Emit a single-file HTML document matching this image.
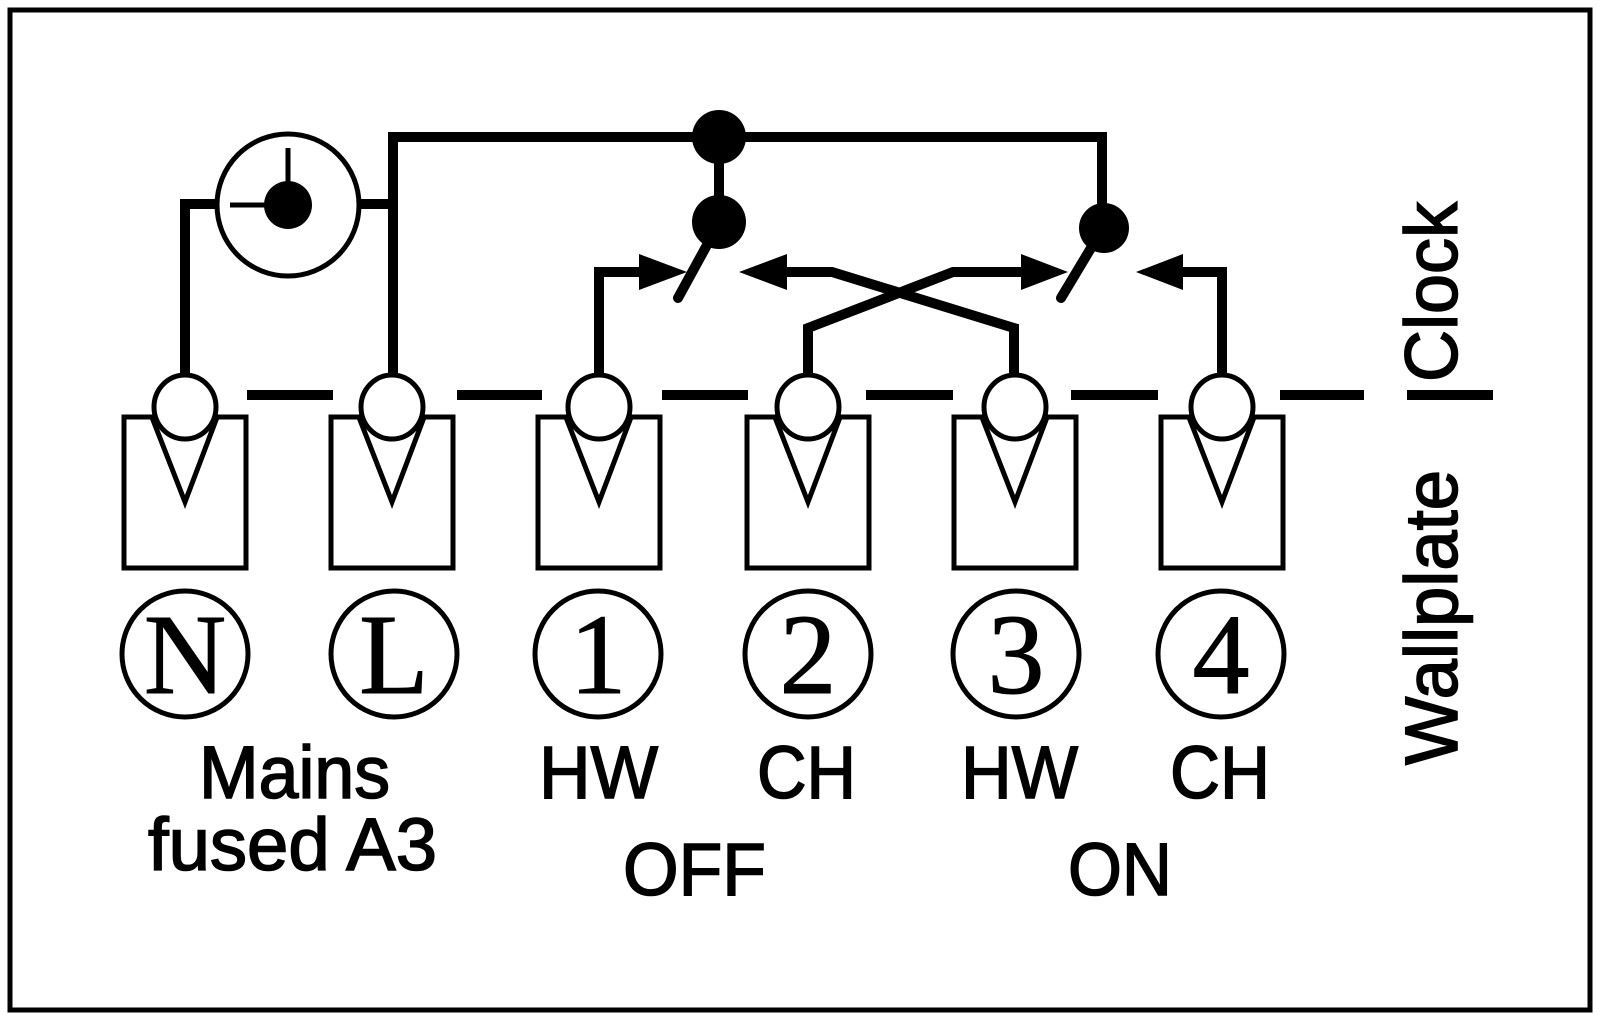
<!DOCTYPE html>
<html><head><meta charset="utf-8"><style>
html,body{margin:0;padding:0;background:#fff;}
svg{display:block;}
.s{font-family:"Liberation Sans",Arial,sans-serif;fill:#000;stroke:#000;stroke-width:1.6;}
.r{font-family:"Liberation Serif","Times New Roman",serif;fill:#000;stroke:#000;stroke-width:1;}
</style></head><body>
<svg width="1600" height="1019" viewBox="0 0 1600 1019" xmlns="http://www.w3.org/2000/svg">
<rect x="0" y="0" width="1600" height="1019" fill="#fff"/>
<rect x="10" y="10" width="1580" height="1000" fill="none" stroke="#000" stroke-width="5"/>

<g stroke="#000" stroke-width="10" fill="none">
  <polyline points="185,375 185,204 218,204"/>
  <polyline points="393,375 393,137 1102,137 1102,228"/>
  <line x1="358" y1="204" x2="393" y2="204"/>
  <line x1="719" y1="137" x2="719" y2="222"/>
  <polyline points="599,375 599,272 642,272"/>
  <polyline points="1014,375 1014,328 832,272 785,272"/>
  <polyline points="808,375 808,328 953,272 1024,272"/>
  <polyline points="1222,375 1222,272 1180,272"/>
</g>
<g stroke="#000" stroke-width="10" stroke-linecap="round">
  <line x1="707" y1="245" x2="678" y2="298"/>
  <line x1="1091" y1="248" x2="1061" y2="298"/>
</g>
<polygon points="639,254 687,272 639,290" fill="#000"/>
<polygon points="787,254 739,272 787,290" fill="#000"/>
<polygon points="1021,254 1068,272 1021,290" fill="#000"/>
<polygon points="1183,254 1136,272 1183,290" fill="#000"/>
<circle cx="719" cy="137" r="27" fill="#000"/>
<circle cx="719" cy="222" r="27" fill="#000"/>
<circle cx="1104" cy="228" r="25" fill="#000"/>

<circle cx="288" cy="205" r="71" fill="#fff" stroke="#000" stroke-width="5"/>
<circle cx="288" cy="205" r="24" fill="#000"/>
<line x1="288" y1="148" x2="288" y2="205" stroke="#000" stroke-width="5"/>
<line x1="230" y1="205" x2="288" y2="205" stroke="#000" stroke-width="5"/>

<g fill="#000">
  <rect x="247" y="390" width="86" height="10"/>
  <rect x="457" y="390" width="85" height="10"/>
  <rect x="662" y="390" width="86" height="10"/>
  <rect x="866" y="390" width="87" height="10"/>
  <rect x="1071" y="390" width="87" height="10"/>
  <rect x="1280" y="390" width="84" height="10"/>
  <rect x="1407" y="390" width="86" height="10"/>
</g>

<g stroke="#000" stroke-width="5" fill="#fff">
  <g transform="translate(185,0)">
    <rect x="-61" y="417" width="122" height="151"/>
    <polygon points="-32,420 31,420 0,502"/>
    <ellipse cx="0" cy="407" rx="31" ry="32"/>
  </g>
  <g transform="translate(392,0)">
    <rect x="-61" y="417" width="122" height="151"/>
    <polygon points="-32,420 31,420 0,502"/>
    <ellipse cx="0" cy="407" rx="31" ry="32"/>
  </g>
  <g transform="translate(599,0)">
    <rect x="-61" y="417" width="122" height="151"/>
    <polygon points="-32,420 31,420 0,502"/>
    <ellipse cx="0" cy="407" rx="31" ry="32"/>
  </g>
  <g transform="translate(808,0)">
    <rect x="-61" y="417" width="122" height="151"/>
    <polygon points="-32,420 31,420 0,502"/>
    <ellipse cx="0" cy="407" rx="31" ry="32"/>
  </g>
  <g transform="translate(1015,0)">
    <rect x="-61" y="417" width="122" height="151"/>
    <polygon points="-32,420 31,420 0,502"/>
    <ellipse cx="0" cy="407" rx="31" ry="32"/>
  </g>
  <g transform="translate(1222,0)">
    <rect x="-61" y="417" width="122" height="151"/>
    <polygon points="-32,420 31,420 0,502"/>
    <ellipse cx="0" cy="407" rx="31" ry="32"/>
  </g>
</g>

<g stroke="#000" stroke-width="5" fill="none">
  <circle cx="185" cy="654" r="63"/>
  <circle cx="394" cy="654" r="63"/>
  <circle cx="598" cy="654" r="63"/>
  <circle cx="808" cy="654" r="63"/>
  <circle cx="1016" cy="654" r="63"/>
  <circle cx="1221" cy="654" r="63"/>
</g>
<g class="r" font-size="114" text-anchor="middle">
  <text x="185" y="693">N</text>
  <text x="394" y="693">L</text>
  <text x="598" y="693">1</text>
  <text x="808" y="693">2</text>
  <text x="1016" y="693">3</text>
  <text x="1221" y="693">4</text>
</g>

<g class="s" font-size="74">
  <text x="199" y="798" textLength="191" lengthAdjust="spacingAndGlyphs">Mains</text>
  <text x="148" y="870" textLength="289" lengthAdjust="spacingAndGlyphs">fused A3</text>
  <text x="539" y="798" textLength="119" lengthAdjust="spacingAndGlyphs">HW</text>
  <text x="757" y="798" textLength="99" lengthAdjust="spacingAndGlyphs">CH</text>
  <text x="961" y="798" textLength="117" lengthAdjust="spacingAndGlyphs">HW</text>
  <text x="1170" y="798" textLength="100" lengthAdjust="spacingAndGlyphs">CH</text>
  <text x="623" y="895" textLength="143" lengthAdjust="spacingAndGlyphs">OFF</text>
  <text x="1068" y="895" textLength="104" lengthAdjust="spacingAndGlyphs">ON</text>
  <text transform="translate(1457,382) rotate(-90)" textLength="180" lengthAdjust="spacingAndGlyphs">Clock</text>
  <text transform="translate(1457,765) rotate(-90)" textLength="295" lengthAdjust="spacingAndGlyphs">Wallplate</text>
</g>
</svg>
</body></html>
